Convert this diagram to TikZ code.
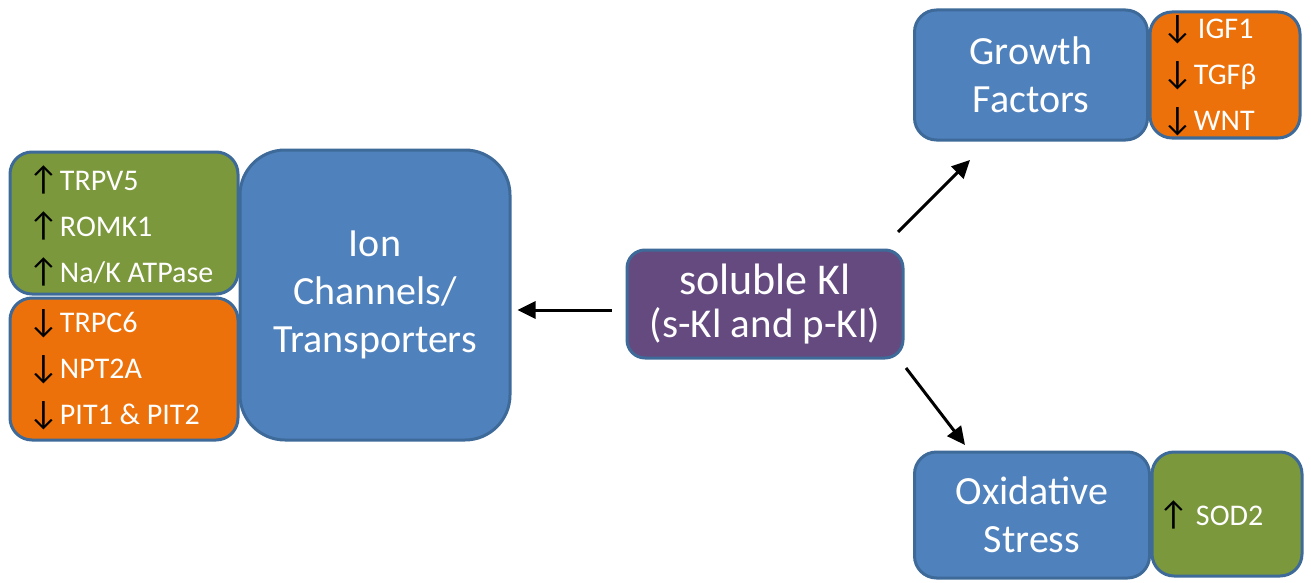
\documentclass[tikz,border=0pt]{standalone}
\usepackage{fontspec}
\setmainfont{Carlito}
\newfontfamily\arrfont{Carlito}
\usetikzlibrary{arrows.meta}
\definecolor{kblue}{HTML}{4F81BD}
\definecolor{kedge}{HTML}{3E6A99}
\definecolor{kgreen}{HTML}{7B983C}
\definecolor{korange}{HTML}{EC710B}
\definecolor{kpurple}{HTML}{654A80}
\tikzset{
  box/.style={draw=kedge, line width=3pt, rounded corners=22pt, inner sep=0pt},
  bluebox/.style={box, fill=kblue, text=white, align=center, font=\fontsize{40}{48}\selectfont},
  item/.style={anchor=west, text=white, inner sep=0pt, font=\fontsize{30}{34}\selectfont},
  ritem/.style={anchor=west, text=white, inner sep=0pt, font=\fontsize{30}{34}\selectfont},
  conn/.style={line width=3pt, -{Triangle[length=18pt,width=17pt]}},
}
\newcommand{\up}{{\arrfont\fontsize{34}{34}\selectfont\textcolor{black}{↑}}\hspace{1pt}}
\newcommand{\dn}{{\arrfont\fontsize{34}{34}\selectfont\textcolor{black}{↓}}\hspace{1pt}}
\begin{document}
\begin{tikzpicture}[x=1pt,y=-1pt]
\useasboundingbox (0,0) rectangle (1311,583);
% left group
\path[box, fill=kgreen] (10,152) rectangle (238,294);
\path[box, fill=korange] (10,298) rectangle (238,440);
\node[bluebox, rounded corners=45pt, minimum width=270pt, minimum height=290pt] (ion) at (375,295) {Ion\\Channels/\\Transporters};
\node[item] (trpv) at (28,180) {\up TRPV5};
\node[item] (romk) at (28,226) {\up ROMK1};
\node[item] (nak) at (28,272) {\up Na/K ATPase};
\node[item] (trpc) at (28,324) {\dn TRPC6};
\node[item] (npt) at (28,370) {\dn NPT2A};
\node[item] (pit) at (28,416) {\dn PIT1 \& PIT2};
% soluble
\node[box, fill=kpurple, rounded corners=18pt, minimum width=276pt, minimum height=108pt, text=white, align=center] (sol) at (765,304)
  {\fontsize{44}{44}\selectfont soluble Kl\\[12pt]\fontsize{41}{41}\selectfont (s-Kl and p-Kl)};
% growth factors
\path[box, fill=korange] (1150,12) rectangle (1300,138);
\node[bluebox, minimum width=233pt, minimum height=130pt] (gf) at (1031,75) {Growth\\Factors};
\node[ritem] (igf) at (1162,30) {\dn\hspace{4pt}IGF1};
\node[ritem] (tgf) at (1162,76) {\dn TGFβ};
\node[ritem] (wnt) at (1162,122) {\dn WNT};
% oxidative stress
\path[box, fill=kgreen] (1152,452) rectangle (1302,576);
\node[bluebox, minimum width=235pt, minimum height=126pt] (ox) at (1032,515) {Oxidative\\Stress};
\node[ritem] (sod) at (1158,515) {\up\hspace{6pt}SOD2};
% connectors
\coordinate (s1) at (898,232);
\coordinate (g1) at (970,160);
\coordinate (s2) at (906,368);
\coordinate (o1) at (965,445);
\draw[conn, shorten <=14pt, shorten >=6pt] ([yshift=-6pt]sol.west) -- ([yshift=-6pt]sol.west -| ion.east);
\draw[conn] (s1) -- (g1);
\draw[conn] (s2) -- (o1);
\end{tikzpicture}
\end{document}
